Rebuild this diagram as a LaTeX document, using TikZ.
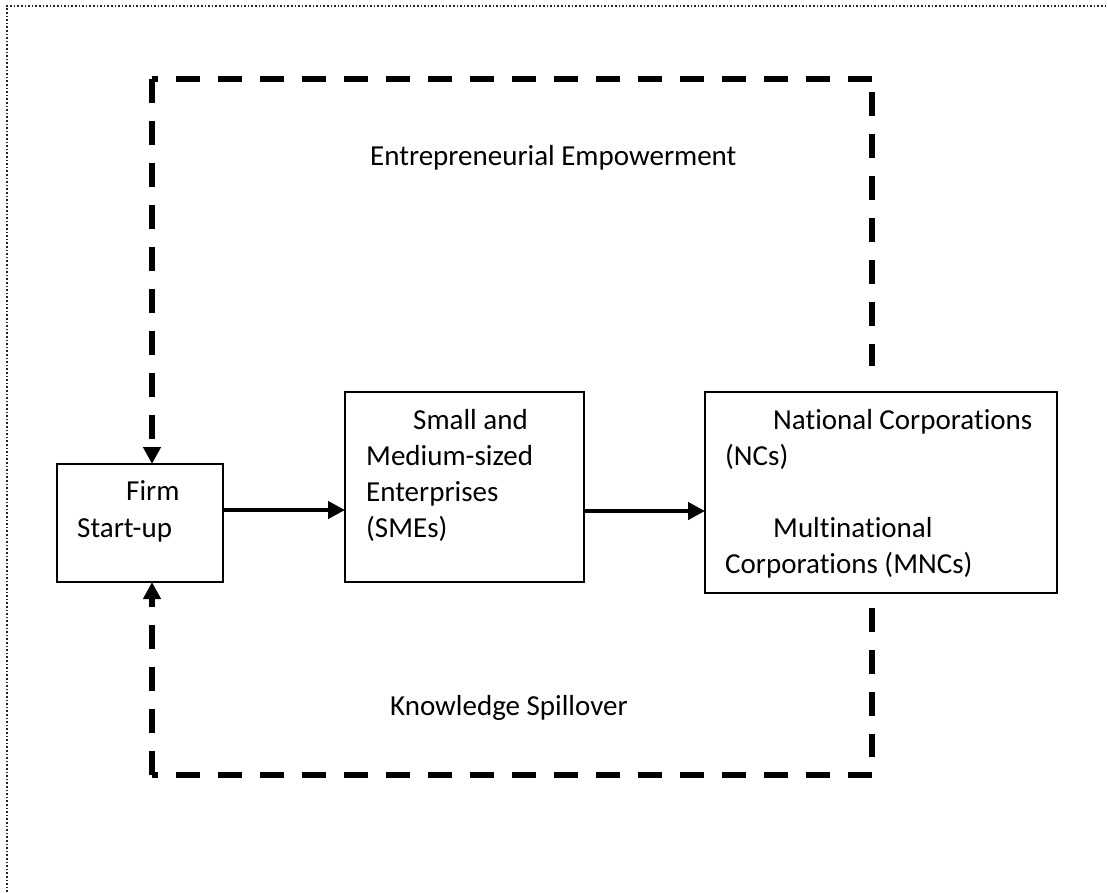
\documentclass[tikz,border=0pt]{standalone}
\usepackage{fontspec}
\setmainfont[Ligatures=NoCommon]{Carlito}
\usetikzlibrary{arrows.meta}
\begin{document}
\begin{tikzpicture}[x=1pt,y=-1pt,
  boxstyle/.style={draw, line width=2pt, inner sep=0pt, outer sep=0pt},
  txt/.style={anchor=base west, inner sep=0pt, font=\fontsize{29}{36}\selectfont},
  loopline/.style={line width=6pt, line cap=butt, dash pattern=on 24pt off 18pt},
  tipped/.style={-{Triangle[length=17pt,width=17pt]}},
  flow/.style={line width=4.8pt, -{Triangle[length=17pt,width=17pt]}},
  framestyle/.style={line width=1.6pt, black!85, dash pattern=on 1.6pt off 2pt}]
\useasboundingbox (0,0) rectangle (1107,892);
% page frame
\coordinate (f1) at (7,892);
\coordinate (f2) at (7,6);
\coordinate (f3) at (1107,6);
\draw[framestyle] (f1) -- (f2) -- (f3);
% boxes
\node[boxstyle, minimum width=166pt, minimum height=118pt] (firm) at (140,523) {};
\node[boxstyle, minimum width=239pt, minimum height=190pt] (sme) at (464.5,487) {};
\node[boxstyle, minimum width=352pt, minimum height=201pt] (nc) at (881,492.5) {};
% texts
\node[txt] (firm1) at (126,500) {Firm};
\node[txt] (firm2) at (77,537) {Start-up};
\node[txt] (sme1) at (413,429) {Small and};
\node[txt] (sme2) at (366,465) {Medium-sized};
\node[txt] (sme3) at (366,501) {Enterprises};
\node[txt] (sme4) at (366,537) {(SMEs)};
\node[txt] (nc1) at (773,429) {National Corporations};
\node[txt] (nc2) at (725,465) {(NCs)};
\node[txt] (nc3) at (773,537) {Multinational};
\node[txt] (nc4) at (725,573) {Corporations (MNCs)};
\node[txt] (ee) at (370,165) {Entrepreneurial Empowerment};
\node[txt] (ks) at (390,715) {Knowledge Spillover};
% flow arrows
\draw[flow] ([yshift=13pt]firm.east) -- ([yshift=-23pt]sme.west);
\draw[flow] ([yshift=-24pt]sme.east) -- ([yshift=-18.5pt]nc.west);
% dashed feedback loop
\coordinate (tl) at (152,79);
\coordinate (tr) at (872,79);
\coordinate (bl) at (152,775);
\coordinate (br) at (872,775);
\coordinate (ru1) at (872,92);
\coordinate (ru2) at (872,366);
\coordinate (rl1) at (872,608);
\coordinate (rl2) at (872,757);
\draw[loopline] (ru1) -- (ru2);
\draw[loopline] (tr) -- (tl);
\draw[loopline, tipped] (tl) -- (firm.north -| tl);
\draw[loopline] (rl1) -- (rl2);
\draw[loopline] (br) -- (bl);
\draw[loopline, tipped] (bl) -- (firm.south -| bl);
\end{tikzpicture}
\end{document}
